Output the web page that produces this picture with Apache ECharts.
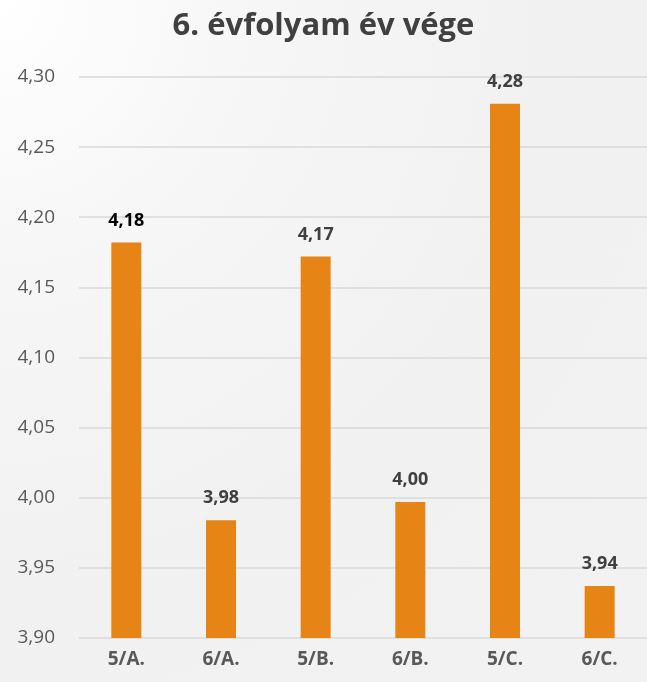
<!DOCTYPE html>
<html>
<head>
<meta charset="utf-8">
<script src="https://cdn.jsdelivr.net/npm/echarts@6/dist/echarts.min.js"></script>
<style>
    html, body { margin: 0; padding: 0; }
    #chart {
        width: 647px;
        height: 682px;
        background: radial-gradient(ellipse at 0% 0%, #ffffff 0%, #f7f7f7 25%, #f1f1f1 60%, #f2f2f2 100%);
    }
</style>
</head>
<body>
<div id="chart"></div>
<script>
// osztályok és átlagok
const categories = ['5/A.', '6/A.', '5/B.', '6/B.', '5/C.', '6/C.'];
const averages = [4.182, 3.984, 4.172, 3.997, 4.281, 3.937];
const label_colors = ['#000000', '#404040', '#404040', '#404040', '#404040', '#404040'];

const font = '"Open Sans", "Noto Sans", sans-serif';
const comma = v => v.toFixed(2).replace('.', ',');

const chart = echarts.init(document.getElementById('chart'));
chart.setOption({
    backgroundColor: 'transparent',
    title: {
        text: '6. évfolyam év vége',
        left: 'center',
        top: 6,
        textStyle: {
            fontFamily: font,
            fontSize: 31,
            fontWeight: 'bold',
            color: '#404040'
        }
    },
    grid: {
        left: 79,
        right: 0,
        top: 77,
        bottom: 44
    },
    xAxis: {
        type: 'category',
        data: categories,
        axisLine: {show: false},
        axisTick: {show: false},
        axisLabel: {
            margin: 12,
            fontFamily: font,
            fontSize: 19,
            fontWeight: 'bold',
            color: '#595959'
        }
    },
    yAxis: {
        type: 'value',
        min: 3.9,
        max: 4.3,
        interval: 0.05,
        axisLine: {show: false},
        axisTick: {show: false},
        splitLine: {lineStyle: {color: '#d9d9d9', width: 1.5}},
        axisLabel: {
            margin: 24,
            fontFamily: font,
            fontSize: 19,
            color: '#595959',
            formatter: comma
        }
    },
    series: [{
        type: 'bar',
        barWidth: 30,
        data: averages.map((v, i) => ({
            value: v,
            label: {color: label_colors[i]}
        })),
        itemStyle: {color: '#e68415'},
        label: {
            show: true,
            position: 'top',
            distance: 13,
            fontFamily: font,
            fontSize: 18,
            fontWeight: 'bold',
            formatter: p => comma(p.value)
        }
    }]
});
</script>
</body>
</html>
